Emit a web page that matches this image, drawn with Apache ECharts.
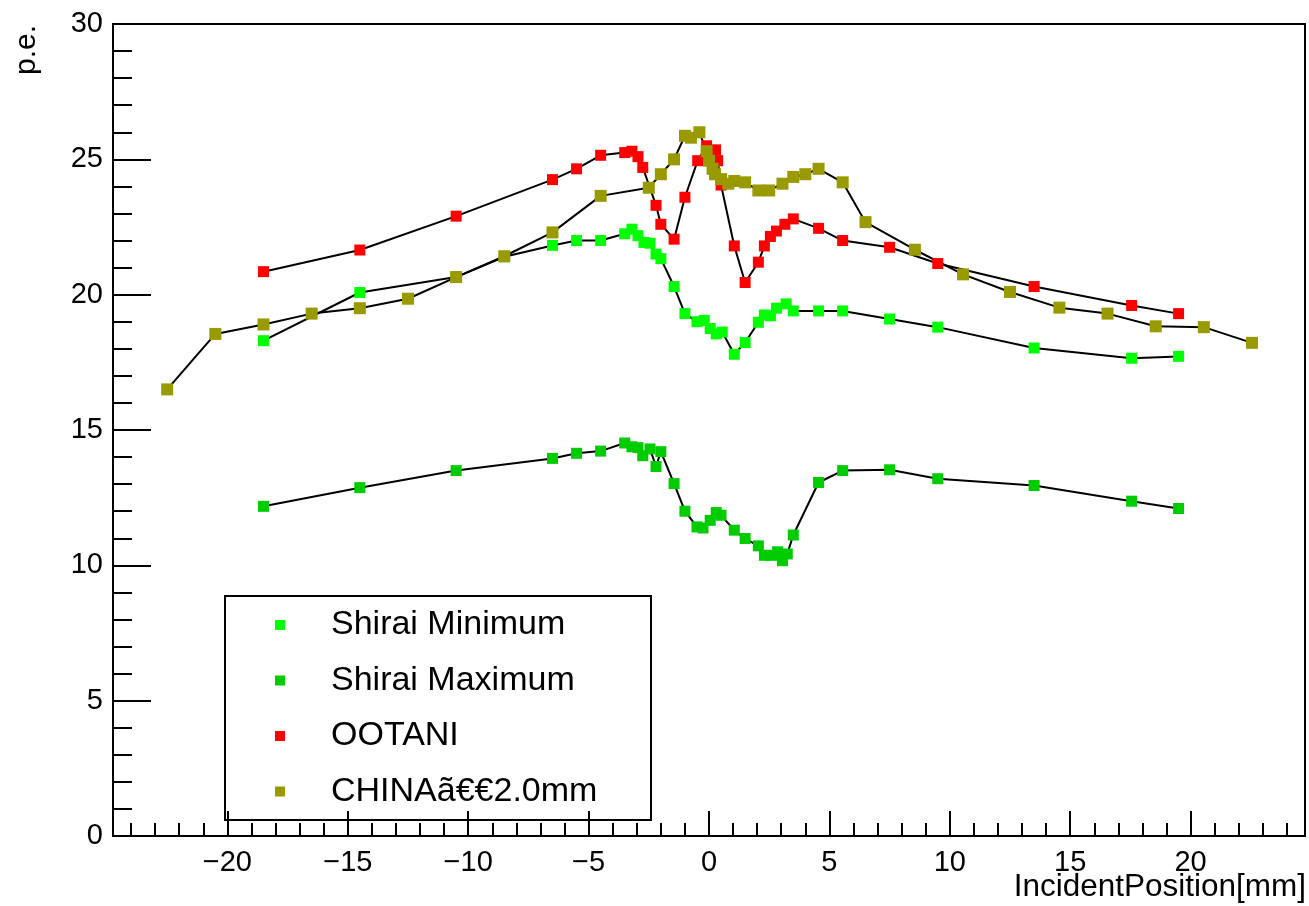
<!DOCTYPE html>
<html>
<head>
<meta charset="utf-8">
<title>p.e. vs IncidentPosition</title>
<script src="https://cdn.jsdelivr.net/npm/echarts@6/dist/echarts.min.js"></script>
<style>
  html, body { margin: 0; padding: 0; background: #fff; }
  #chart { width: 1309px; height: 906px; }
</style>
</head>
<body>
<div id="chart"></div>
<script>
// Measured photoelectron yield [p.e.] against incident position [mm]
const shiraiMinimum = [
  [-18.5, 18.3], [-14.5, 20.08], [-10.5, 20.65], [-8.5, 21.4], [-6.5, 21.82],
  [-5.5, 22.0], [-4.5, 22.0], [-3.5, 22.25], [-3.2, 22.42], [-2.95, 22.18],
  [-2.7, 21.93], [-2.45, 21.9], [-2.2, 21.5], [-2.0, 21.33], [-1.45, 20.3],
  [-1.0, 19.3], [-0.5, 19.0], [-0.2, 19.05], [0.05, 18.75], [0.3, 18.55],
  [0.55, 18.62], [1.05, 17.8], [1.5, 18.23], [2.05, 18.98], [2.3, 19.25],
  [2.55, 19.22], [2.8, 19.5], [3.2, 19.66], [3.5, 19.4], [4.55, 19.4],
  [5.55, 19.4], [7.5, 19.1], [9.5, 18.8], [13.5, 18.03], [17.55, 17.65],
  [19.5, 17.72]
];

const shiraiMaximum = [
  [-18.5, 12.18], [-14.5, 12.87], [-10.5, 13.5], [-6.5, 13.95], [-5.5, 14.14],
  [-4.5, 14.22], [-3.5, 14.52], [-3.2, 14.38], [-2.95, 14.35], [-2.75, 14.05],
  [-2.45, 14.3], [-2.2, 13.65], [-2.0, 14.2], [-1.45, 13.02], [-1.0, 12.0],
  [-0.5, 11.42], [-0.25, 11.38], [0.05, 11.66], [0.3, 11.95], [0.5, 11.85],
  [1.05, 11.3], [1.5, 10.99], [2.05, 10.72], [2.3, 10.37], [2.6, 10.37],
  [2.85, 10.5], [3.05, 10.17], [3.25, 10.42], [3.5, 11.12], [4.55, 13.06],
  [5.55, 13.5], [7.5, 13.53], [9.5, 13.2], [13.5, 12.95], [17.55, 12.37],
  [19.5, 12.1]
];

const ootani = [
  [-18.5, 20.85], [-14.5, 21.65], [-10.5, 22.9], [-6.5, 24.25], [-5.5, 24.65],
  [-4.5, 25.15], [-3.5, 25.25], [-3.2, 25.3], [-2.95, 25.1], [-2.75, 24.7],
  [-2.2, 23.3], [-2.0, 22.6], [-1.45, 22.05], [-1.0, 23.6], [-0.47, 24.95],
  [-0.1, 25.5], [0.27, 25.35], [0.36, 24.95], [0.5, 24.05], [1.05, 21.8],
  [1.5, 20.45], [2.05, 21.2], [2.3, 21.8], [2.55, 22.15], [2.8, 22.35],
  [3.15, 22.6], [3.5, 22.8], [4.55, 22.45], [5.55, 22.0], [7.5, 21.75],
  [9.5, 21.15], [13.5, 20.3], [17.55, 19.6], [19.5, 19.3]
];

const china20mm = [
  [-22.5, 16.5], [-20.5, 18.55], [-18.5, 18.9], [-16.5, 19.3], [-14.5, 19.5],
  [-12.5, 19.85], [-10.5, 20.65], [-8.5, 21.42], [-6.5, 22.3], [-4.5, 23.65],
  [-2.5, 23.95], [-2.0, 24.45], [-1.45, 25.0], [-1.0, 25.87], [-0.75, 25.8],
  [-0.4, 26.0], [-0.1, 25.3], [0.0, 24.95], [0.15, 24.65], [0.25, 24.45],
  [0.5, 24.27], [0.8, 24.1], [1.05, 24.2], [1.5, 24.15], [2.05, 23.85],
  [2.5, 23.85], [3.05, 24.1], [3.5, 24.35], [4.0, 24.45], [4.55, 24.65],
  [5.55, 24.15], [6.5, 22.68], [8.55, 21.66], [10.55, 20.75], [12.5, 20.1],
  [14.55, 19.52], [16.55, 19.3], [18.55, 18.83], [20.55, 18.8], [22.55, 18.22]
];

const seriesNames = ['Shirai Minimum', 'Shirai Maximum', 'OOTANI', 'CHINA\u00e3\u20ac\u20ac2.0mm'];
const xTitle = 'IncidentPosition[mm]';
const yTitle = 'p.e.';

// Axis tick positions
const xMajorTicks = [-20, -15, -10, -5, 0, 5, 10, 15, 20];
const xMinorTicks = [-24, -23, -22, -21, -20, -19, -18, -17, -16, -15, -14, -13, -12, -11, -10,
  -9, -8, -7, -6, -5, -4, -3, -2, -1, 0, 1, 2, 3, 4, 5, 6, 7, 8, 9, 10, 11, 12, 13, 14,
  15, 16, 17, 18, 19, 20, 21, 22, 23, 24];

const FONT = "'Liberation Sans', Arial, Helvetica, sans-serif";
const X_MIN = -24.75, X_MAX = 24.75;

function graph(name, data, color, size) {
  return {
    name: name,
    type: 'line',
    data: data,
    xAxisIndex: 0,
    yAxisIndex: 0,
    symbol: 'rect',
    symbolSize: size,
    showSymbol: true,
    itemStyle: { color: color, borderWidth: 0 },
    lineStyle: { color: '#000', width: 2 },
    emphasis: { disabled: true },
    animation: false
  };
}

const chart = echarts.init(document.getElementById('chart'), null, { renderer: 'canvas' });

chart.setOption({
  backgroundColor: '#fff',
  animation: false,
  textStyle: { fontFamily: FONT },
  grid: {
    left: 113, top: 24, right: 4, bottom: 70,
    containLabel: false,
    outerBoundsMode: 'none',
    show: true, borderColor: '#000', borderWidth: 2, backgroundColor: 'transparent'
  },
  xAxis: [
    {
      type: 'value', min: X_MIN, max: X_MAX,
      axisLine: { show: true, onZero: false, lineStyle: { color: '#000', width: 2 } },
      axisTick: { show: true, inside: true, length: 25, customValues: xMajorTicks,
        lineStyle: { color: '#000', width: 2 } },
      axisLabel: {
        show: true, customValues: xMajorTicks, margin: 12,
        fontSize: 29, color: '#000', fontFamily: FONT,
        formatter: v => String(v).replace('-', '\u2212')
      },
      splitLine: { show: false }
    },
    {
      type: 'value', min: X_MIN, max: X_MAX, position: 'bottom',
      axisLine: { show: false, onZero: false },
      axisTick: { show: true, inside: true, length: 13, customValues: xMinorTicks,
        lineStyle: { color: '#000', width: 2 } },
      axisLabel: { show: false },
      splitLine: { show: false }
    }
  ],
  yAxis: {
    type: 'value', min: 0, max: 30, interval: 5,
    axisLine: { show: true, onZero: false, lineStyle: { color: '#000', width: 2 } },
    axisTick: { show: true, inside: true, length: 38, lineStyle: { color: '#000', width: 2 } },
    minorTick: { show: true, splitNumber: 5, length: 19, lineStyle: { color: '#000', width: 2 } },
    axisLabel: { margin: 10, fontSize: 29, color: '#000', fontFamily: FONT },
    splitLine: { show: false }
  },
  legend: {
    orient: 'vertical',
    left: 275,
    top: 605,
    padding: 0,
    itemGap: 15.5,
    itemWidth: 10,
    itemHeight: 10,
    icon: 'rect',
    selectedMode: false,
    data: seriesNames,
    textStyle: {
      fontSize: 34, color: '#000', fontFamily: FONT,
      lineHeight: 40, padding: [0, 0, 0, 41]
    }
  },
  graphic: [
    {
      type: 'rect',
      shape: { x: 225, y: 596, width: 426, height: 224 },
      style: { fill: 'none', stroke: '#000', lineWidth: 2 },
      z: 10, silent: true
    },
    {
      type: 'text',
      x: 27, y: 25,
      rotation: Math.PI / 2,
      style: {
        text: yTitle, fontSize: 30, fontFamily: FONT, fill: '#000',
        align: 'right', verticalAlign: 'middle'
      },
      silent: true
    },
    {
      type: 'text',
      x: 1306, y: 887,
      style: {
        text: xTitle, fontSize: 31.5, fontFamily: FONT, fill: '#000',
        align: 'right', verticalAlign: 'middle'
      },
      silent: true
    }
  ],
  series: [
    graph(seriesNames[0], shiraiMinimum, '#00ff00', 11),
    graph(seriesNames[1], shiraiMaximum, '#00cc00', 11),
    graph(seriesNames[2], ootani, '#ff0000', 11),
    graph(seriesNames[3], china20mm, '#999900', 12)
  ]
});
</script>
</body>
</html>
